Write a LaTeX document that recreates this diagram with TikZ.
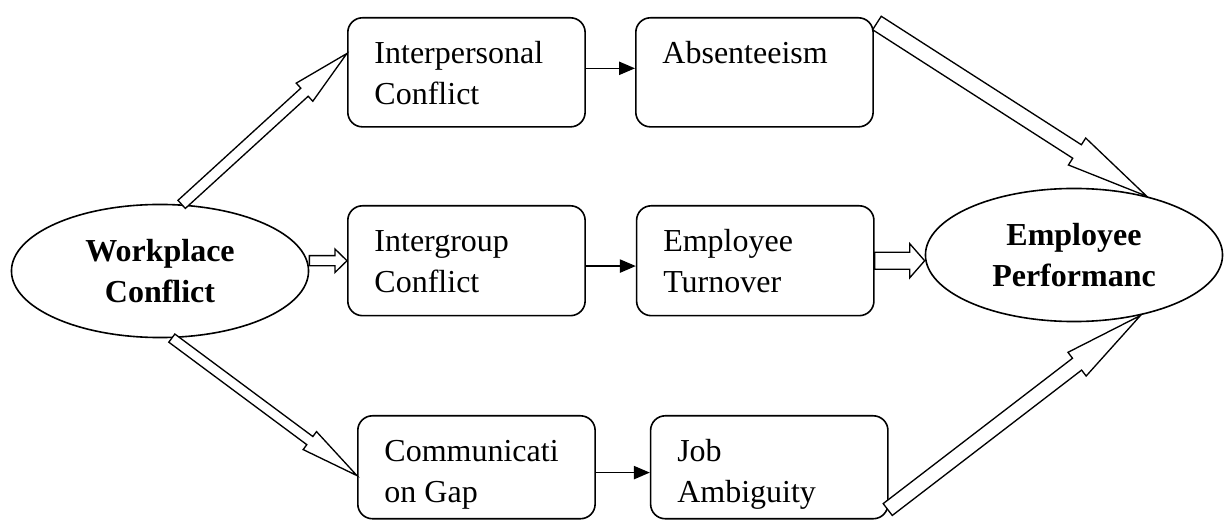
\documentclass[tikz,border=0pt]{standalone}
\usepackage{fontspec}
\setmainfont{Liberation Serif}
\usetikzlibrary{positioning,arrows.meta,shapes.geometric,calc}

% hollow block arrow: #1 half shaft, #2 half head, #3 head length, #4 from, #5 to
\newcommand{\fatarrow}[5]{%
  \draw[blockarrow] let \p1=(#4), \p2=(#5),
      \n1={atan2(\y2-\y1,\x2-\x1)}, \n2={veclen(\x2-\x1,\y2-\y1)} in
    [shift={(\p1)},rotate=\n1]
    (0pt,-#1) -- ({\n2-#3},-#1) -- ({\n2-#3},-#2) -- (\n2,0pt)
    -- ({\n2-#3},#2) -- ({\n2-#3},#1) -- (0pt,#1) -- cycle;}

% text sits at the top left of a box
\newcommand{\boxtext}[2]{\parbox[t][#1][t]{69pt}{\raggedright\rule{0pt}{17.25pt}#2}}

\begin{document}
\begin{tikzpicture}[x=0.375pt,y=-0.375pt,
    font=\fontsize{12}{15.4}\selectfont,
    box/.style={rectangle,draw,line width=0.6pt,rounded corners=5.5pt,inner xsep=10pt,inner ysep=0pt,anchor=north west},
    oval/.style={ellipse,draw,line width=0.6pt,minimum width=111.4pt,minimum height=49.9pt,inner sep=0pt,align=center,font=\fontsize{12}{15.4}\selectfont\bfseries},
    arrow/.style={-{Triangle[length=6pt,width=5pt]},line width=0.5pt},
    blockarrow/.style={draw,fill=white,line width=0.5pt,line join=miter}]

    \useasboundingbox (0,0) rectangle (1227,520);

    \node[oval] (wc) at (160,271) {Workplace\\Conflict};
    \node[oval] (perf) at (1074,255) {Employee\\Performanc};

    \node[box] (inter) at (347,17) {\boxtext{40.9pt}{Interpersonal\\Conflict}};
    \node[box,right=18.4pt of inter] (absent) {\boxtext{40.9pt}{Absenteeism}};
    \node[box] (group) at (347,205) {\boxtext{41.2pt}{Intergroup\\Conflict}};
    \node[box,right=18.7pt of group] (turn) {\boxtext{41.2pt}{Employee\\Turnover}};
    \node[box] (comm) at (357,415) {\boxtext{38.6pt}{Communicati\\on Gap}};
    \node[box,right=20.2pt of comm] (job) {\boxtext{38.6pt}{Job\\Ambiguity}};

    \draw[arrow] ([yshift=1.5pt]inter.east) -- ([yshift=1.5pt]absent.west);
    \draw[arrow] ([yshift=-2pt]group.east) -- ([yshift=-2pt]turn.west);
    \draw[arrow] ([yshift=-2pt]comm.east) -- ([yshift=-2pt]job.west);

    \fatarrow{2.05pt}{4.6pt}{21.5pt}{wc.72}{inter.171}
    \fatarrow{1.9pt}{4.4pt}{4.5pt}{wc.east |- group.west}{group.west}
    \fatarrow{1.9pt}{4.2pt}{22pt}{wc.-80}{comm.184}
    \fatarrow{3.2pt}{6.4pt}{5.6pt}{turn.east}{perf.west |- turn.east}
    \fatarrow{3pt}{6pt}{31pt}{[shift={(3,6)}]absent.north east}{perf.39}
    \fatarrow{2.8pt}{5.6pt}{30pt}{[shift={(-1,-10)}]job.south east}{perf.-42}
\end{tikzpicture}
\end{document}
